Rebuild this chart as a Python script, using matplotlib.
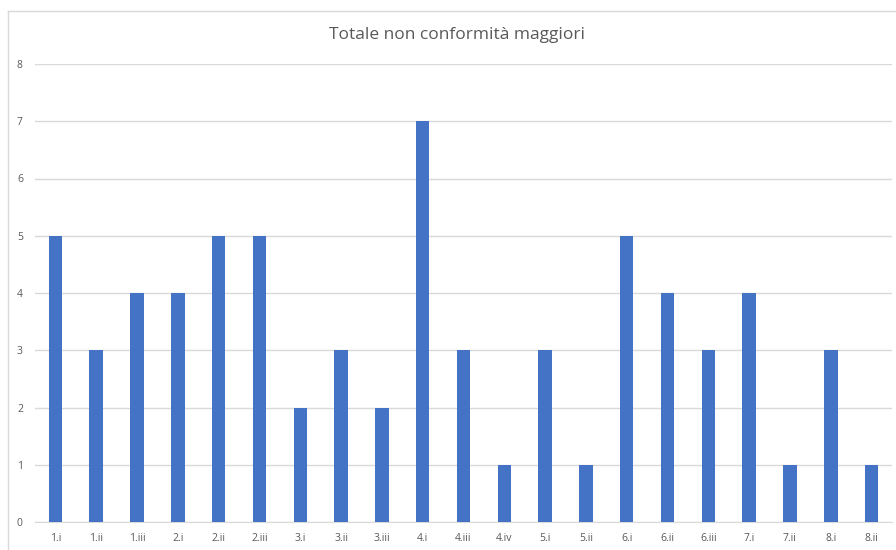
import matplotlib
matplotlib.use("Agg")
import matplotlib.pyplot as plt
from matplotlib.lines import Line2D

categories = ["1.i", "1.ii", "1.iii", "2.i", "2.ii", "2.iii", "3.i", "3.ii", "3.iii",
              "4.i", "4.iii", "4.iv", "5.i", "5.ii", "6.i", "6.ii", "6.iii", "7.i",
              "7.ii", "8.i", "8.ii"]
values = [5, 3, 4, 4, 5, 5, 2, 3, 2, 7, 3, 1, 3, 1, 5, 4, 3, 4, 1, 3, 1]
y_ticks = [0, 1, 2, 3, 4, 5, 6, 7, 8]
title = "Totale non conformità maggiori"

W, H = 896, 550
fig = plt.figure(figsize=(W / 100, H / 100), dpi=100)
plt.rcParams['font.family'] = ['Open Sans', 'DejaVu Sans']

# chart border (left and top visible)
fig.add_artist(Line2D([8 / W, 8 / W], [0, 1 - 11 / H], transform=fig.transFigure,
                      color="#d9d9d9", lw=1))
fig.add_artist(Line2D([8 / W, 1], [1 - 11 / H, 1 - 11 / H], transform=fig.transFigure,
                      color="#d9d9d9", lw=1))

ax = fig.add_axes([35 / W, (H - 522) / H, (892 - 35) / W, (522 - 64) / H])
x = range(len(categories))
ax.bar(x, values, width=0.33, color="#4472C4", zorder=3)
ax.set_xlim(-0.5, len(categories) - 0.5)
ax.set_ylim(0, 8)
ax.set_yticks(y_ticks)
ax.set_yticklabels([str(t) for t in y_ticks])
ax.set_xticks(list(x))
ax.set_xticklabels(categories)
ax.grid(axis="y", color="#d9d9d9", lw=1, zorder=0)
for s in ["top", "right", "left"]:
    ax.spines[s].set_visible(False)
ax.spines["bottom"].set_color("#d9d9d9")
ax.tick_params(axis="both", length=0, labelsize=7.5, labelcolor="#595959")
ax.tick_params(axis="y", pad=13)
ax.tick_params(axis="x", pad=8)
for lbl in ax.get_yticklabels():
    lbl.set_horizontalalignment("left")
fig.text(457 / W, 1 - 35 / H, title, ha="center", va="center", fontsize=12.5, color="#595959")

fig.savefig("out.png", dpi=100, facecolor="white")
